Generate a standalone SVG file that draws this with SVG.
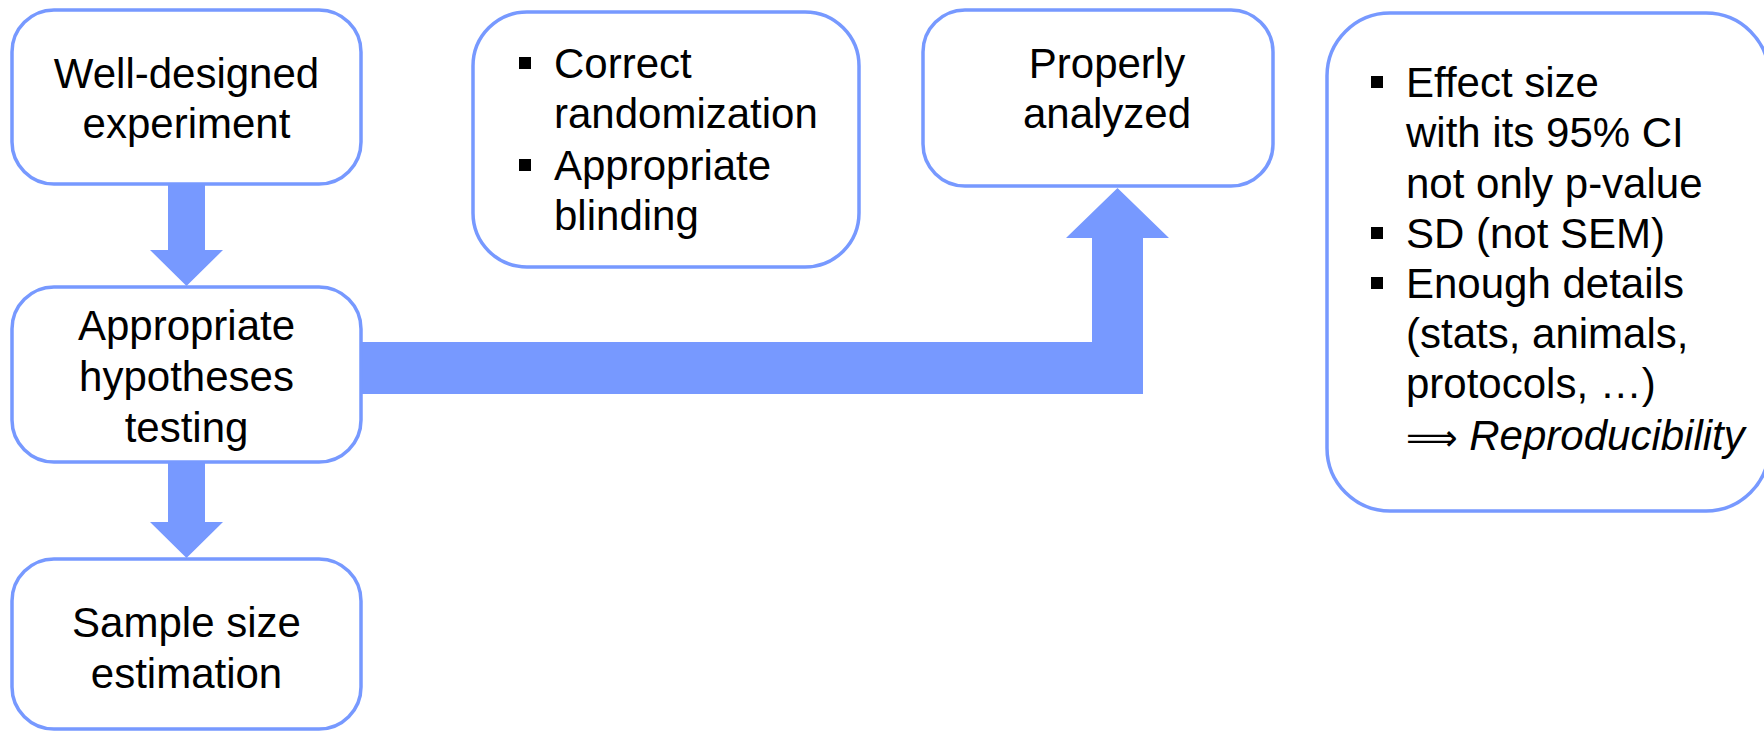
<svg xmlns="http://www.w3.org/2000/svg" width="1764" height="732" viewBox="0 0 1764 732">
<style>
.box{fill:#fff;stroke:#7799ff;stroke-width:3.5}
.t{font-family:"Liberation Sans",Arial,sans-serif;font-size:42px;fill:#000}
.c{text-anchor:middle}
.arr{fill:#7799ff;stroke:none}
.bul{fill:#000}
</style>
<rect width="1764" height="732" fill="#fff"/>
<g id="connectors">
<polygon class="arr" points="168,184 205,184 205,250 223,250 186.5,286 150,250 168,250"/>
<polygon class="arr" points="168,462 205,462 205,522 223,522 186.5,558 150,522 168,522"/>
<polygon class="arr" points="361,342 1092,342 1092,238 1066,238 1117.5,188 1169,238 1143,238 1143,394 361,394"/>
</g>
<g id="node-well-designed">
<rect class="box" x="12" y="10" width="349" height="174" rx="42"/>
<text class="t c" x="186.5" y="88">Well-designed</text>
<text class="t c" x="186.5" y="138">experiment</text>
</g>
<g id="node-hypotheses">
<rect class="box" x="12" y="287" width="349" height="175" rx="42"/>
<text class="t c" x="186.5" y="340">Appropriate</text>
<text class="t c" x="186.5" y="391">hypotheses</text>
<text class="t c" x="186.5" y="442">testing</text>
</g>
<g id="node-sample-size">
<rect class="box" x="12" y="559" width="349" height="170" rx="42"/>
<text class="t c" x="186.5" y="637">Sample size</text>
<text class="t c" x="186.5" y="688">estimation</text>
</g>
<g id="node-randomization">
<rect class="box" x="473" y="12" width="386" height="255" rx="54"/>
<rect class="bul" x="519" y="57" width="12" height="12"/>
<text class="t" x="554" y="78">Correct</text>
<text class="t" x="554" y="128">randomization</text>
<rect class="bul" x="519" y="159" width="12" height="12"/>
<text class="t" x="554" y="180">Appropriate</text>
<text class="t" x="554" y="230">blinding</text>
</g>
<g id="node-analyzed">
<rect class="box" x="923" y="10" width="350" height="176" rx="42"/>
<text class="t c" x="1107" y="78">Properly</text>
<text class="t c" x="1107" y="128">analyzed</text>
</g>
<g id="node-reporting">
<rect class="box" x="1327" y="13" width="442" height="498" rx="63"/>
<rect class="bul" x="1371" y="76" width="12" height="12"/>
<text class="t" x="1406" y="97">Effect size</text>
<text class="t" x="1406" y="147">with its 95% CI</text>
<text class="t" x="1406" y="198">not only p-value</text>
<rect class="bul" x="1371" y="227" width="12" height="12"/>
<text class="t" x="1406" y="248">SD (not SEM)</text>
<rect class="bul" x="1371" y="277" width="12" height="12"/>
<text class="t" x="1406" y="298">Enough details</text>
<text class="t" x="1406" y="348">(stats, animals,</text>
<text class="t" x="1406" y="398">protocols, …)</text>
<text class="t" x="1406" y="450"><tspan font-family="'DejaVu Sans',sans-serif" font-size="36">⟹</tspan> <tspan font-style="italic">Reproducibility</tspan></text>
</g>
</svg>
